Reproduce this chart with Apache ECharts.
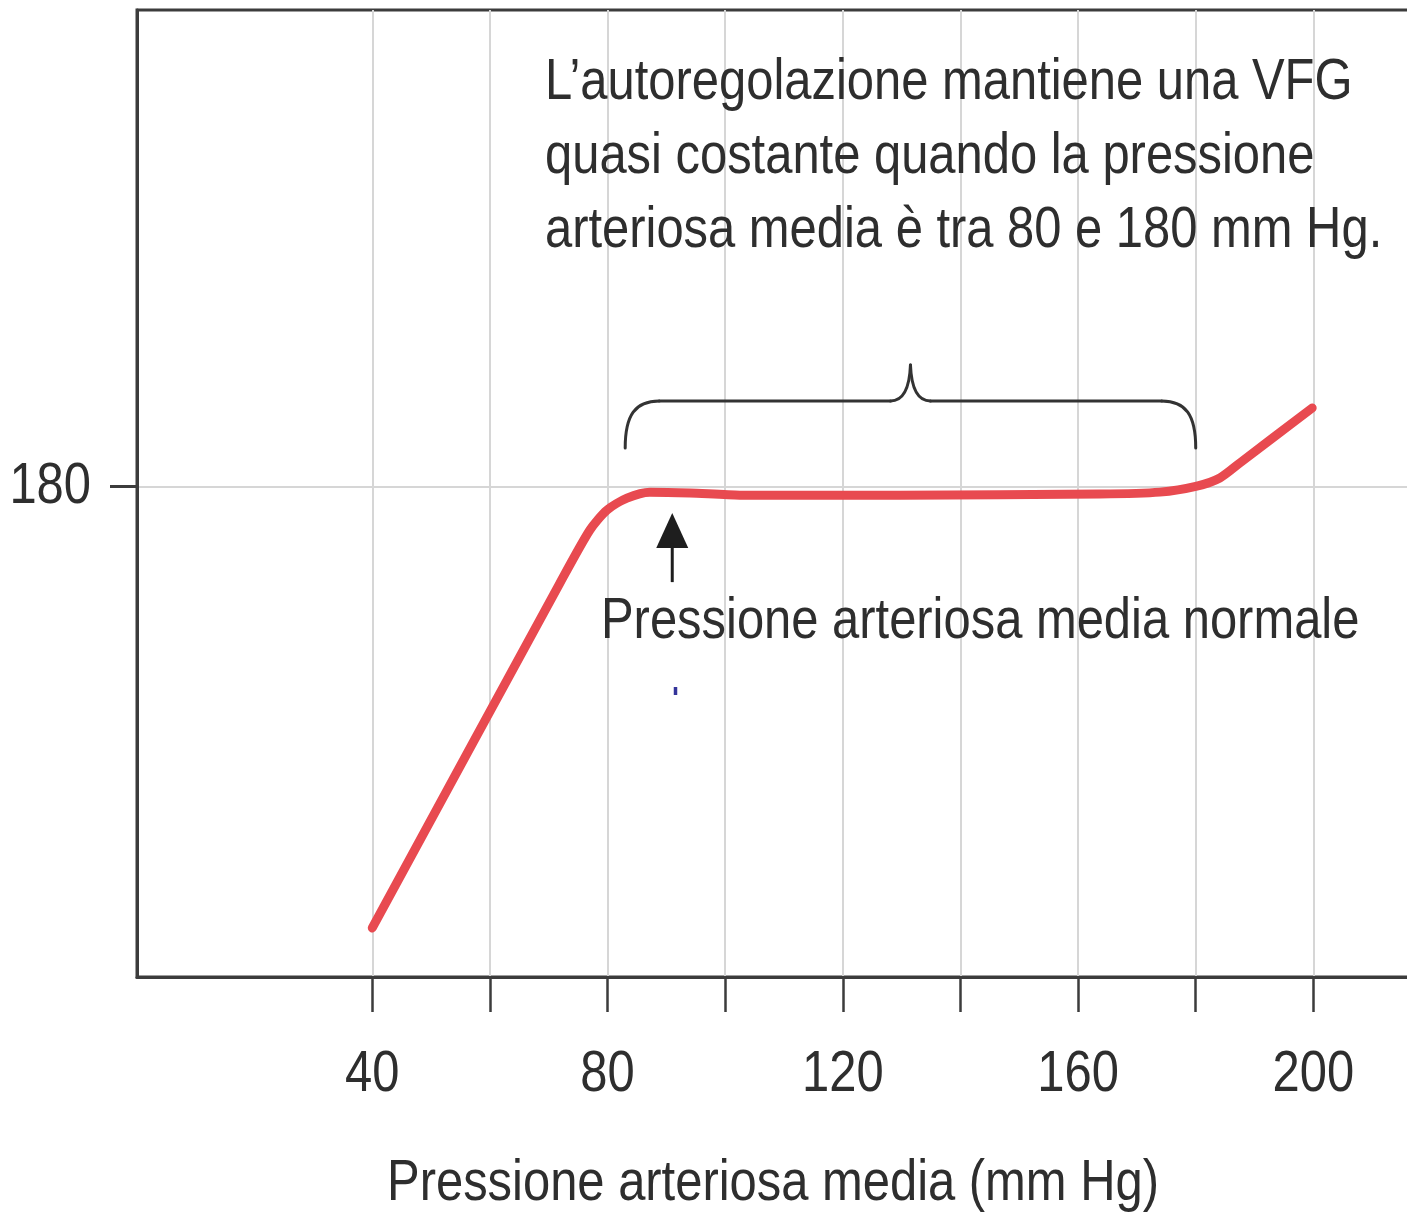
<!DOCTYPE html>
<html>
<head>
<meta charset="utf-8">
<script src="https://cdn.jsdelivr.net/npm/echarts@6/dist/echarts.min.js"></script>
<style>
  html, body { margin: 0; padding: 0; background: #ffffff; }
  #chart { width: 1407px; height: 1216px; }
</style>
</head>
<body>
<div id="chart"></div>
<script>
// Autoregulation curve: glomerular filtration vs mean arterial pressure
const pressure = [40, 71.9, 77.0, 79.9, 83.3, 87.2, 94.0, 102.5, 129.7, 163.7, 173.9, 180.2, 184.1, 187.5, 199.8];
const gfr      = [18.0, 144.6, 164.1, 171.4, 175.8, 178.0, 177.7, 176.9, 176.9, 177.3, 178.0, 180.2, 183.2, 188.7, 208.9];

const xTickValues  = [40, 60, 80, 100, 120, 140, 160, 180, 200];
const xLabelValues = [40, 80, 120, 160, 200];
const yTickValues  = [180];

const noteLines = [
  'L\u2019autoregolazione mantiene una VFG',
  'quasi costante quando la pressione',
  'arteriosa media \u00e8 tra 80 e 180 mm Hg.'
];
const arrowLabel = 'Pressione arteriosa media normale';
const xTitle = 'Pressione arteriosa media (mm Hg)';

const plateauRange = [83, 180];   // autoregulated range marked by the brace
const normalPressure = 91;        // arrow position

const FONT_FAMILY = '"Liberation Sans", Arial, sans-serif';
const FONT_SIZE = 57;
const NARROW = 0.858;             // horizontal squeeze for a condensed face
const INK = '#2e2e2e';
const AXIS = '#3c3c3c';
const GRIDLINE = '#d6d6d6';
const CURVE = '#e84a50';

const chart = echarts.init(document.getElementById('chart'), null, { renderer: 'canvas' });

chart.setOption({
  animation: false,
  backgroundColor: '#ffffff',
  grid: {
    left: 137, top: 10, right: -24, bottom: 239,
    containLabel: false, outerBoundsMode: 'none',
    show: true, borderColor: AXIS, borderWidth: 3, backgroundColor: 'transparent'
  },
  xAxis: {
    type: 'value', min: 0, max: 220, interval: 20,
    axisLine: { show: true, lineStyle: { color: AXIS, width: 3 } },
    axisTick: { show: true, length: 35, customValues: xTickValues, lineStyle: { color: AXIS, width: 2.5 } },
    axisLabel: { show: false },
    splitLine: { show: true, lineStyle: { color: GRIDLINE, width: 2 } }
  },
  yAxis: {
    type: 'value', min: 0, max: 355, interval: 180,
    axisLine: { show: true, lineStyle: { color: AXIS, width: 3 } },
    axisTick: { show: true, length: 27, customValues: yTickValues, lineStyle: { color: AXIS, width: 3 } },
    axisLabel: { show: false },
    splitLine: { show: true, lineStyle: { color: GRIDLINE, width: 2 } }
  },
  series: [{
    type: 'line',
    data: pressure.map((p, i) => [p, gfr[i]]),
    smooth: 0.25,
    showSymbol: false,
    lineStyle: { color: CURVE, width: 9, cap: 'round', join: 'round' },
    z: 5
  }]
});

// Labels and annotations positioned through the axes' own scales
const px = (x, y) => chart.convertToPixel({ gridIndex: 0 }, [x, y]);
const [axisLeft, axisBottom] = px(0, 0);

function label(text, x, y, align) {
  return {
    type: 'text', z: 10, x: x, y: y, scaleX: NARROW,
    style: {
      text: text, font: `${FONT_SIZE}px ${FONT_FAMILY}`, fill: INK,
      align: align, verticalAlign: 'middle'
    }
  };
}

const tickLabels = xLabelValues.map(v => label(String(v), px(v, 0)[0], axisBottom + 98, 'center'));
const yLabels = yTickValues.map(v => label(String(v), axisLeft - 46, px(0, v)[1] + 1, 'right'));

const [braceL] = px(plateauRange[0], 0);
const [braceR] = px(plateauRange[1], 0);
const braceM = (braceL + braceR) / 2;
const bar = 401, end = 448, tip = 365;
const braceStyle = { stroke: '#333333', lineWidth: 3, lineCap: 'round', fill: null };
const brace = [
  { type: 'bezierCurve', shape: { x1: braceL, y1: end, cpx1: braceL, cpy1: bar + 14, cpx2: braceL + 10, cpy2: bar, x2: braceL + 34, y2: bar } },
  { type: 'line', shape: { x1: braceL + 34, y1: bar, x2: braceM - 20, y2: bar } },
  { type: 'bezierCurve', shape: { x1: braceM - 20, y1: bar, cpx1: braceM - 8, cpy1: bar, cpx2: braceM - 1, cpy2: bar - 10, x2: braceM, y2: tip } },
  { type: 'bezierCurve', shape: { x1: braceM, y1: tip, cpx1: braceM + 1, cpy1: bar - 10, cpx2: braceM + 8, cpy2: bar, x2: braceM + 20, y2: bar } },
  { type: 'line', shape: { x1: braceM + 20, y1: bar, x2: braceR - 34, y2: bar } },
  { type: 'bezierCurve', shape: { x1: braceR - 34, y1: bar, cpx1: braceR - 10, cpy1: bar, cpx2: braceR, cpy2: bar + 14, x2: braceR, y2: end } }
].map(el => Object.assign(el, { z: 10, style: braceStyle }));

const [arrowX, arrowTipY] = px(normalPressure, 170.3);

chart.setOption({
  graphic: [
    ...brace,
    {
      type: 'polygon', z: 10,
      shape: { points: [[arrowX, arrowTipY], [arrowX - 16, arrowTipY + 35], [arrowX + 16, arrowTipY + 35]] },
      style: { fill: '#1e1e1e' }
    },
    {
      type: 'line', z: 10,
      shape: { x1: arrowX, y1: arrowTipY + 30, x2: arrowX, y2: arrowTipY + 69 },
      style: { stroke: '#1e1e1e', lineWidth: 3 }
    },
    {
      type: 'rect', z: 10,
      shape: { x: arrowX + 1.5, y: 687, width: 3.5, height: 8 },
      style: { fill: '#34349a' }
    },
    ...noteLines.map((line, i) => label(line, 545, 83 + i * 74, 'left')),
    label(arrowLabel, 601, 622, 'left'),
    label(xTitle, 773, 1184, 'center'),
    ...tickLabels,
    ...yLabels
  ]
});
</script>
</body>
</html>
